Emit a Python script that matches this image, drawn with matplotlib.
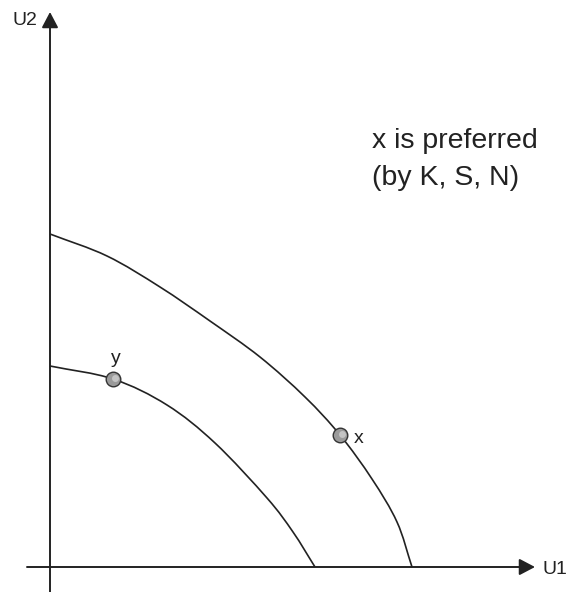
import matplotlib
matplotlib.use('Agg')
import matplotlib.pyplot as plt
from matplotlib.path import Path
from matplotlib.patches import PathPatch

plt.rcParams['font.family'] = ['Liberation Sans', 'DejaVu Sans']

# utility frontiers (U1, U2)
outer_u1 = [0, 57, 110, 160, 210, 255, 290, 322, 347, 362]
outer_u2 = [333, 311, 280, 246, 210, 170, 132, 88, 45, 0]
inner_u1 = [0, 63, 117, 165, 217, 243, 265]
inner_u2 = [201, 188, 162, 124, 69, 35, 0]

# the two allocations
pt_names = ['y', 'x']
pt_u1 = [63, 290]
pt_u2 = [188, 132]

ink = '#222222'


def smooth(xs, ys):
    # catmull-rom through the read points, drawn as bezier segments
    p = list(zip(xs, ys))
    first = (2 * p[0][0] - p[1][0], 2 * p[0][1] - p[1][1])
    last = (2 * p[-1][0] - p[-2][0], 2 * p[-1][1] - p[-2][1])
    p = [first] + p + [last]
    verts = [p[1]]
    codes = [Path.MOVETO]
    for i in range(1, len(p) - 2):
        p0, p1, p2, p3 = p[i - 1], p[i], p[i + 1], p[i + 2]
        c1 = (p1[0] + (p2[0] - p0[0]) / 6, p1[1] + (p2[1] - p0[1]) / 6)
        c2 = (p2[0] - (p3[0] - p1[0]) / 6, p2[1] - (p3[1] - p1[1]) / 6)
        verts += [c1, c2, p2]
        codes += [Path.CURVE4] * 3
    return Path(verts, codes)


fig = plt.figure(figsize=(5.87, 5.92), dpi=100)
ax = fig.add_axes([0, 0, 1, 1])
ax.set_xlim(-50, 537)
ax.set_ylim(-25, 567)
ax.axis('off')

# axes with arrow heads
arr = dict(arrowstyle='-|>,head_length=0.95,head_width=0.5', lw=1.4,
           color=ink, shrinkA=0, shrinkB=0)
ax.annotate('', xy=(0, 555), xytext=(0, -25), arrowprops=arr)
ax.annotate('', xy=(485, 0), xytext=(-23, 0), arrowprops=arr)
ax.text(-37, 542, 'U2', fontsize=14, color=ink, va='baseline')
ax.text(493, -7, 'U1', fontsize=14, color=ink, va='baseline')

# frontiers
for xs, ys in [(outer_u1, outer_u2), (inner_u1, inner_u2)]:
    ax.add_patch(PathPatch(smooth(xs, ys), fc='none', ec=ink, lw=1.2))

# points
ax.plot(pt_u1, pt_u2, 'o', ms=10.5, mfc='#9a9a9a', mec='#333333', mew=1.0,
        zorder=3)
ax.plot([u + 1.5 for u in pt_u1], [u + 1.5 for u in pt_u2], 'o', ms=5,
        mfc='#c4c4c4', mec='none', zorder=4)
ax.text(pt_u1[0] + 3, pt_u2[0] + 16, pt_names[0], fontsize=14, color=ink,
        ha='center', va='baseline')
ax.text(pt_u1[1] + 14, pt_u2[1] - 8, pt_names[1], fontsize=14, color=ink,
        ha='left', va='baseline')

ax.text(322, 419, 'x is preferred', fontsize=20.5, color=ink, va='baseline')
ax.text(322, 382, '(by K, S, N)', fontsize=20.5, color=ink, va='baseline')

fig.savefig('out.png', dpi=100)
